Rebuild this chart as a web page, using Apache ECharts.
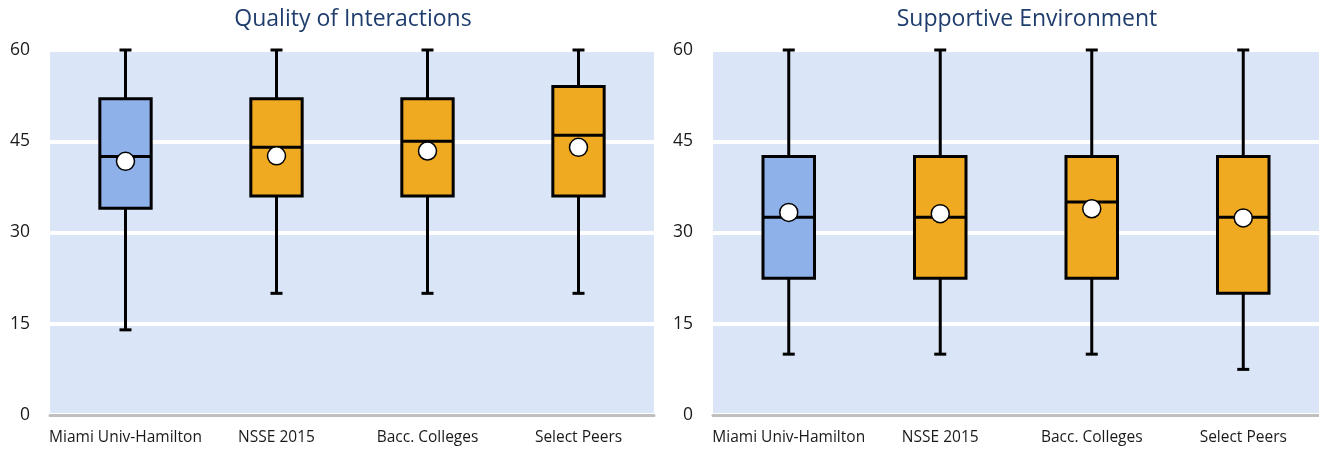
<!DOCTYPE html>
<html>
<head>
<meta charset="utf-8">
<title>Quality of Interactions / Supportive Environment</title>
<script src="https://cdn.jsdelivr.net/npm/echarts@6/dist/echarts.min.js"></script>
<style>
  html, body { margin: 0; padding: 0; background: #ffffff; }
  #chart { width: 1319px; height: 450px; }
</style>
</head>
<body>
<div id="chart"></div>
<script>
// Comparison groups shown on both panels
const groups = ['Miami Univ-Hamilton', 'NSSE 2015', 'Bacc. Colleges', 'Select Peers'];
const yTicks = [0, 15, 30, 45, 60];

// Quality of Interactions: [min, Q1, median, Q3, max] per group
const qiMiami  = [14, 34, 42.5, 52, 60];
const qiNsse   = [20, 36, 44, 52, 60];
const qiBacc   = [20, 36, 45, 52, 60];
const qiPeers  = [20, 36, 46, 54, 60];
const qiMeans  = [41.7, 42.6, 43.4, 44.0];

// Supportive Environment: [min, Q1, median, Q3, max] per group
const seMiami  = [10, 22.5, 32.5, 42.5, 60];
const seNsse   = [10, 22.5, 32.5, 42.5, 60];
const seBacc   = [10, 22.5, 35, 42.5, 60];
const sePeers  = [7.5, 20, 32.5, 42.5, 60];
const seMeans  = [33.3, 33.1, 33.9, 32.4];

const FONT = '"Open Sans", "Noto Sans", sans-serif';
const HOME_FILL = '#8eb1e9';
const COMPARE_FILL = '#efaa22';
const PLOT_BG = '#dae5f7';

function boxRows(stats) {
  return stats.map((s, i) => [i].concat(s));
}

// Draws one box with thin-capped whiskers through the axis scales
function renderBox(params, api) {
  const idx = api.value(0);
  const pMin = api.coord([idx, api.value(1)]);
  const pQ1  = api.coord([idx, api.value(2)]);
  const pMed = api.coord([idx, api.value(3)]);
  const pQ3  = api.coord([idx, api.value(4)]);
  const pMax = api.coord([idx, api.value(5)]);
  const band = api.size([1, 0])[0];
  const boxW = band * 0.34;
  const cx = pMed[0];
  const capHalf = 6;
  const line = { stroke: '#000000', lineWidth: 3 };
  return {
    type: 'group',
    children: [
      { type: 'line', shape: { x1: cx, y1: pQ3[1], x2: cx, y2: pMax[1] }, style: line },
      { type: 'line', shape: { x1: cx - capHalf, y1: pMax[1], x2: cx + capHalf, y2: pMax[1] }, style: line },
      { type: 'line', shape: { x1: cx, y1: pQ1[1], x2: cx, y2: pMin[1] }, style: line },
      { type: 'line', shape: { x1: cx - capHalf, y1: pMin[1], x2: cx + capHalf, y2: pMin[1] }, style: line },
      {
        type: 'rect',
        shape: { x: cx - boxW / 2, y: pQ3[1], width: boxW, height: pQ1[1] - pQ3[1] },
        style: { fill: idx === 0 ? HOME_FILL : COMPARE_FILL, stroke: '#000000', lineWidth: 3 }
      },
      { type: 'line', shape: { x1: cx - boxW / 2, y1: pMed[1], x2: cx + boxW / 2, y2: pMed[1] }, style: line }
    ]
  };
}

function xAxisFor(gridIndex) {
  return {
    type: 'category',
    gridIndex: gridIndex,
    data: groups,
    axisLine: { show: true, lineStyle: { color: '#bfbfbf', width: 3 } },
    axisTick: { show: false },
    axisLabel: { interval: 0, color: '#1a1a1a', fontFamily: FONT, fontSize: 15.5, margin: 15 },
    splitLine: { show: false }
  };
}

function yAxisFor(gridIndex) {
  return {
    type: 'value',
    gridIndex: gridIndex,
    min: yTicks[0],
    max: yTicks[yTicks.length - 1],
    interval: yTicks[1] - yTicks[0],
    axisLine: { show: false },
    axisTick: { show: false },
    axisLabel: { color: '#1a1a1a', fontFamily: FONT, fontSize: 17.5, margin: 20 },
    splitLine: { show: true, lineStyle: { color: '#ffffff', width: 4 } }
  };
}

function meanSeries(means, axisIndex) {
  return {
    type: 'scatter',
    xAxisIndex: axisIndex,
    yAxisIndex: axisIndex,
    data: means.map((m, i) => [i, m]),
    symbol: 'circle',
    symbolSize: 18,
    itemStyle: { color: '#ffffff', borderColor: '#000000', borderWidth: 1.5, opacity: 1 },
    z: 5,
    silent: true
  };
}

const chart = echarts.init(document.getElementById('chart'), null, { renderer: 'canvas' });

chart.setOption({
  animation: false,
  backgroundColor: '#ffffff',
  title: [
    {
      text: 'Quality of Interactions',
      left: 348, top: 3, textAlign: 'center',
      textStyle: { color: '#1f3d6d', fontFamily: FONT, fontSize: 23, fontWeight: 'normal' }
    },
    {
      text: 'Supportive Environment',
      left: 1022, top: 3, textAlign: 'center',
      textStyle: { color: '#1f3d6d', fontFamily: FONT, fontSize: 23, fontWeight: 'normal' }
    }
  ],
  grid: [
    { left: 50, right: 665, top: 50, bottom: 35, show: true, backgroundColor: PLOT_BG, borderWidth: 0 },
    { left: 713, right: 0, top: 50, bottom: 35, show: true, backgroundColor: PLOT_BG, borderWidth: 0 }
  ],
  xAxis: [xAxisFor(0), xAxisFor(1)],
  yAxis: [yAxisFor(0), yAxisFor(1)],
  series: [
    {
      type: 'custom',
      xAxisIndex: 0, yAxisIndex: 0,
      renderItem: renderBox,
      encode: { x: 0, y: [1, 2, 3, 4, 5] },
      data: boxRows([qiMiami, qiNsse, qiBacc, qiPeers]),
      z: 3
    },
    meanSeries(qiMeans, 0),
    {
      type: 'custom',
      xAxisIndex: 1, yAxisIndex: 1,
      renderItem: renderBox,
      encode: { x: 0, y: [1, 2, 3, 4, 5] },
      data: boxRows([seMiami, seNsse, seBacc, sePeers]),
      z: 3
    },
    meanSeries(seMeans, 1)
  ]
});
</script>
</body>
</html>
